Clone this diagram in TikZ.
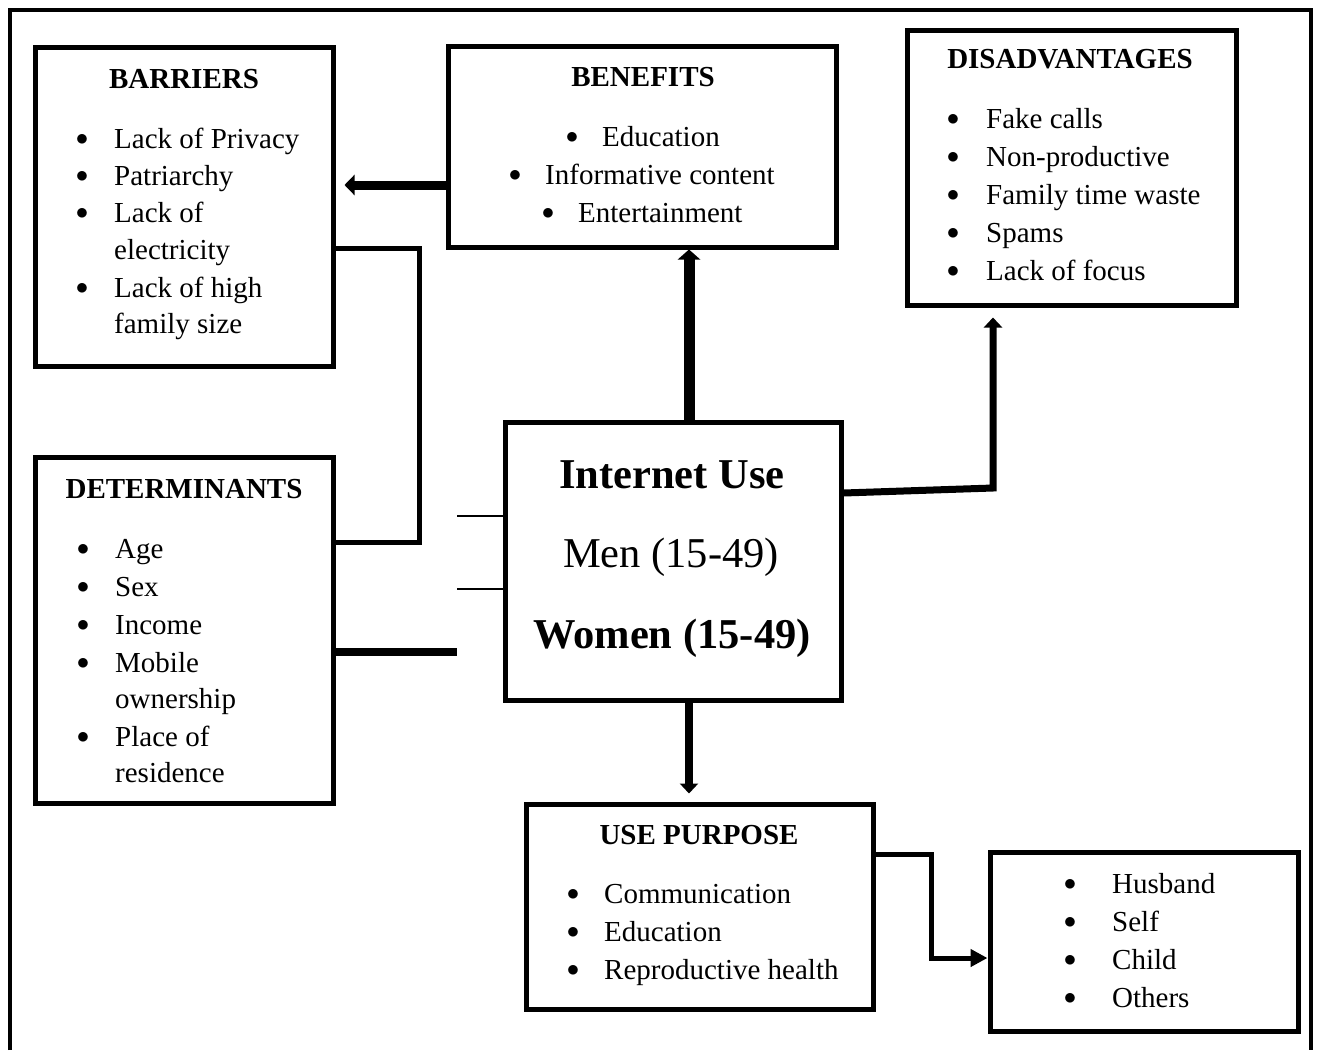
\documentclass[tikz,border=0pt]{standalone}
\usepackage{fontspec}
\setmainfont{Liberation Serif}
\usetikzlibrary{arrows.meta}

\begin{document}
\begin{tikzpicture}[x=1pt, y=-1pt,
  caja/.style={draw, line width=5pt, inner sep=0pt},
  titulo/.style={font=\fontsize{29}{34}\selectfont\bfseries, anchor=base, inner sep=0pt},
  texto/.style={font=\fontsize{29}{34}\selectfont, anchor=base west, inner sep=0pt},
  punto/.style={font=\fontsize{29}{34}\selectfont, anchor=base, inner sep=0pt},
  grande/.style={font=\fontsize{42.5}{50}\selectfont, anchor=base, inner sep=0pt},
  grandeb/.style={font=\fontsize{42.5}{50}\selectfont\bfseries, anchor=base, inner sep=0pt},
  flecha/.style={-{Triangle[width=#1, length=10pt]}},
]
\useasboundingbox (0,0) rectangle (1317,1050);
% Marco exterior (abierto por abajo)
\draw[line width=4pt] (10,1050) -- (10,10) -- (1311,10) -- (1311,1050);

% Cajas
\node[caja, minimum width=298pt, minimum height=319pt] (barreras) at (184,206.5) {};
\node[caja, minimum width=388pt, minimum height=201pt] (beneficios) at (642,146.5) {};
\node[caja, minimum width=329pt, minimum height=275pt] (desventajas) at (1071.5,167.5) {};
\node[caja, minimum width=298pt, minimum height=346pt] (determinantes) at (184,630) {};
\node[caja, minimum width=336pt, minimum height=278pt] (internet) at (673,561) {};
\node[caja, minimum width=347pt, minimum height=205pt] (proposito) at (699.5,906.5) {};
\node[caja, minimum width=308pt, minimum height=179pt] (usuarios) at (1144,941.5) {};

% Barreras
\node[titulo] (tbar) at (184,88) {BARRIERS};
\foreach \y in {148,185,222,297}
  \node[punto] (pbar\y) at (82,\y-3) {$\bullet$};
\foreach \y/\t in {148/Lack of Privacy, 185/Patriarchy, 222/Lack of,
                   259/electricity, 297/Lack of high, 333/family size}
  \node[texto] (bar\y) at (114,\y) {\t};

% Beneficios
\node[titulo] (tben) at (643,86) {BENEFITS};
\foreach \y/\x/\t in {146/572/Education, 184/515/Informative content, 222/548/Entertainment} {
  \node[punto] (pben\y) at (\x,\y-3) {$\bullet$};
  \node[texto] (ben\y) at (\x+30,\y) {\t};
}

% Desventajas
\node[titulo] (tdes) at (1070,68) {DISADVANTAGES};
\foreach \y/\t in {128/Fake calls, 166/Non-productive, 204/Family time waste,
                   242/Spams, 280/Lack of focus} {
  \node[punto] (pdes\y) at (953,\y-3) {$\bullet$};
  \node[texto] (des\y) at (986,\y) {\t};
}

% Determinantes
\node[titulo] (tdet) at (184,498) {DETERMINANTS};
\foreach \y in {558,596,634,672,746}
  \node[punto] (pdet\y) at (83,\y-3) {$\bullet$};
\foreach \y/\t in {558/Age, 596/Sex, 634/Income, 672/Mobile, 708/ownership,
                   746/Place of, 782/residence}
  \node[texto] (det\y) at (115,\y) {\t};

% Internet Use
\node[grandeb] (tint) at (672,488) {Internet Use};
\node[grande] (men) at (671,567) {Men (15-49)};
\node[grandeb] (women) at (672,648) {Women (15-49)};

% Proposito de uso
\node[titulo] (tpro) at (699,844) {USE PURPOSE};
\foreach \y/\t in {903/Communication, 941/Education, 979/Reproductive health} {
  \node[punto] (ppro\y) at (573,\y-3) {$\bullet$};
  \node[texto] (pro\y) at (604,\y) {\t};
}

% Usuarios
\foreach \y/\t in {893/Husband, 931/Self, 969/Child, 1007/Others} {
  \node[punto] (pusu\y) at (1070,\y-3) {$\bullet$};
  \node[texto] (usu\y) at (1112,\y) {\t};
}

% Beneficios -> Barreras
\coordinate (a1) at (0,185);
\draw[line width=9pt, flecha=20pt, shorten >=9pt] (beneficios.west |- a1) -- (barreras.east |- a1);

% Barreras -- Determinantes
\coordinate (b1) at (419,248);
\coordinate (b2) at (419,542);
\draw[line width=5pt] (barreras.east |- b1) -- (b1) -- (b2) -- (determinantes.east |- b2);

% Ramas hacia Internet Use
\coordinate (c1) at (457,516);
\coordinate (c2) at (457,589);
\coordinate (c3) at (457,652);
\draw[line width=2.5pt] (c1) -- (internet.west |- c1);
\draw[line width=2.5pt] (c2) -- (internet.west |- c2);
\draw[line width=8pt] (determinantes.east |- c3) -- (c3);

% Internet Use -> Beneficios
\coordinate (d1) at (689,0);
\draw[line width=11pt, flecha=22pt] (internet.north -| d1) -- (beneficios.south -| d1);

% Internet Use -> Desventajas
\coordinate (e0) at (0,493);
\coordinate (e1) at (993,488);
\draw[line width=7pt, flecha=18pt, shorten >=10pt] (internet.east |- e0) -- (e1) -- (desventajas.south -| e1);

% Internet Use -> Proposito
\draw[line width=8pt, flecha=18pt, shorten >=8pt] (internet.south -| d1) -- (proposito.north -| d1);

% Proposito -> Usuarios
\coordinate (f1) at (931,854);
\coordinate (f2) at (931,958);
\draw[line width=5pt, -{Triangle[width=17pt, length=17pt]}] (proposito.east |- f1) -- (f1) -- (f2) -- (usuarios.west |- f2);

\end{tikzpicture}
\end{document}
